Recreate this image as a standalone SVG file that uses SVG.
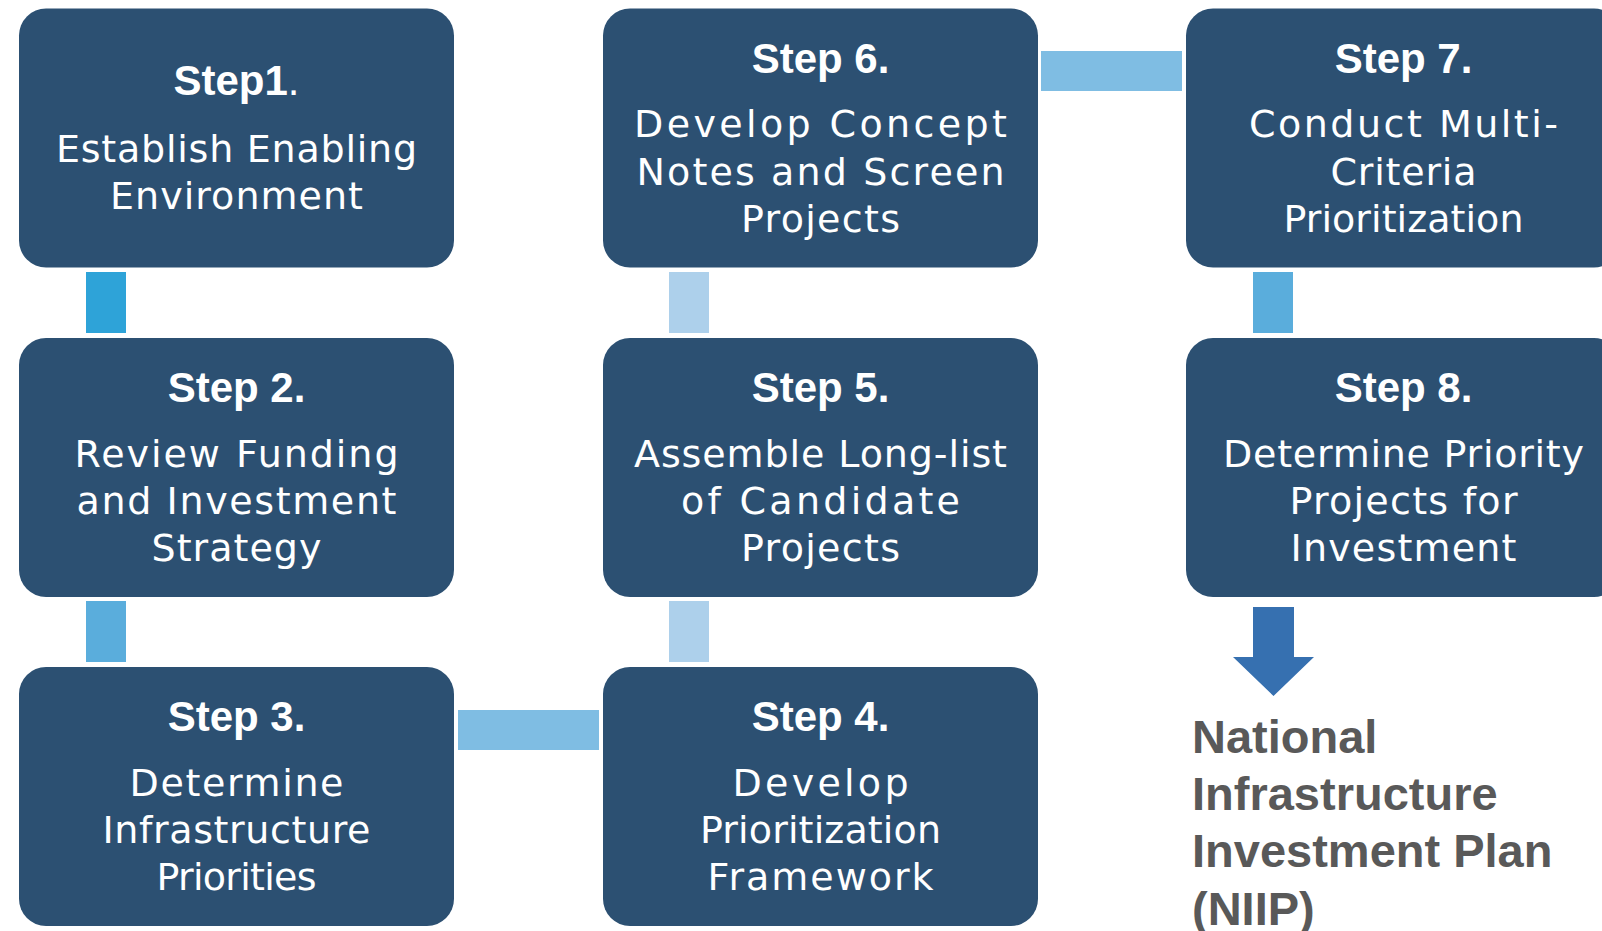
<svg xmlns="http://www.w3.org/2000/svg" width="1602" height="931" viewBox="0 0 1602 931">
  <style>
    .box { fill: #2C5072; }
    .title { font-family: "Liberation Sans", Arial, sans-serif; font-weight: bold; font-size: 42px; fill: #ffffff; text-anchor: middle; }
    .body { font-family: "DejaVu Sans", "Liberation Sans", sans-serif; font-size: 38px; fill: #ffffff; text-anchor: middle; }
    .out { font-family: "Liberation Sans", Arial, sans-serif; font-weight: bold; font-size: 47px; fill: #595959; }
  </style>
  <rect width="1602" height="931" fill="#ffffff"/>

  <!-- connectors between steps -->
  <g id="connectors">
    <rect x="86" y="272" width="40" height="61" fill="#2EA3D8"/>
    <rect x="86" y="601" width="40" height="61" fill="#5AADDC"/>
    <rect x="458" y="710" width="141" height="40" fill="#7FBDE3"/>
    <rect x="669" y="601" width="40" height="61" fill="#ADD0EB"/>
    <rect x="669" y="272" width="40" height="61" fill="#ADD0EB"/>
    <rect x="1041" y="51" width="141" height="40" fill="#7FBDE3"/>
    <rect x="1253" y="272" width="40" height="61" fill="#5AADDC"/>
    <polygon points="1253,607 1294,607 1294,657 1314,657 1273.5,696 1233,657 1253,657" fill="#3670B0"/>
  </g>

  <g id="step1">
    <rect class="box" x="19" y="8.5" width="435" height="259" rx="27"/>
    <text class="title" x="236.5" y="95">Step1<tspan font-weight="normal">.</tspan></text>
    <text class="body" x="236.5" y="162" textLength="361" lengthAdjust="spacing">Establish Enabling</text>
    <text class="body" x="236.5" y="209" textLength="253" lengthAdjust="spacing">Environment</text>
  </g>

  <g id="step2">
    <rect class="box" x="19" y="338" width="435" height="259" rx="27"/>
    <text class="title" x="236.5" y="402">Step 2.</text>
    <text class="body" x="236.5" y="467" textLength="324" lengthAdjust="spacing">Review Funding</text>
    <text class="body" x="236.5" y="514" textLength="320" lengthAdjust="spacing">and Investment</text>
    <text class="body" x="236.5" y="561" textLength="170" lengthAdjust="spacing">Strategy</text>
  </g>

  <g id="step3">
    <rect class="box" x="19" y="667" width="435" height="259" rx="27"/>
    <text class="title" x="236.5" y="731">Step 3.</text>
    <text class="body" x="236.5" y="796" textLength="214" lengthAdjust="spacing">Determine</text>
    <text class="body" x="236.5" y="843" textLength="268" lengthAdjust="spacing">Infrastructure</text>
    <text class="body" x="236.5" y="890" textLength="160" lengthAdjust="spacing">Priorities</text>
  </g>

  <g id="step4">
    <rect class="box" x="603" y="667" width="435" height="259" rx="27"/>
    <text class="title" x="820.5" y="731">Step 4.</text>
    <text class="body" x="820.5" y="796" textLength="176" lengthAdjust="spacing">Develop</text>
    <text class="body" x="820.5" y="843" textLength="241" lengthAdjust="spacing">Prioritization</text>
    <text class="body" x="820.5" y="890" textLength="226" lengthAdjust="spacing">Framework</text>
  </g>

  <g id="step5">
    <rect class="box" x="603" y="338" width="435" height="259" rx="27"/>
    <text class="title" x="820.5" y="402">Step 5.</text>
    <text class="body" x="820.5" y="467" textLength="373" lengthAdjust="spacing">Assemble Long-list</text>
    <text class="body" x="820.5" y="514" textLength="279" lengthAdjust="spacing">of Candidate</text>
    <text class="body" x="820.5" y="561" textLength="159" lengthAdjust="spacing">Projects</text>
  </g>

  <g id="step6">
    <rect class="box" x="603" y="8.5" width="435" height="259" rx="27"/>
    <text class="title" x="820.5" y="73">Step 6.</text>
    <text class="body" x="820.5" y="137" textLength="373" lengthAdjust="spacing">Develop Concept</text>
    <text class="body" x="820.5" y="185" textLength="368" lengthAdjust="spacing">Notes and Screen</text>
    <text class="body" x="820.5" y="232" textLength="159" lengthAdjust="spacing">Projects</text>
  </g>

  <g id="step7">
    <rect class="box" x="1186" y="8.5" width="435" height="259" rx="27"/>
    <text class="title" x="1403.5" y="73">Step 7.</text>
    <text class="body" x="1403.5" y="137" textLength="309" lengthAdjust="spacing">Conduct Multi-</text>
    <text class="body" x="1403.5" y="185" textLength="146" lengthAdjust="spacing">Criteria</text>
    <text class="body" x="1403.5" y="232" textLength="240" lengthAdjust="spacing">Prioritization</text>
  </g>

  <g id="step8">
    <rect class="box" x="1186" y="338" width="435" height="259" rx="27"/>
    <text class="title" x="1403.5" y="402">Step 8.</text>
    <text class="body" x="1403.5" y="467" textLength="361" lengthAdjust="spacing">Determine Priority</text>
    <text class="body" x="1403.5" y="514" textLength="228" lengthAdjust="spacing">Projects for</text>
    <text class="body" x="1403.5" y="561" textLength="226" lengthAdjust="spacing">Investment</text>
  </g>

  <g id="niip">
    <text class="out" x="1192" y="753">National</text>
    <text class="out" x="1192" y="810">Infrastructure</text>
    <text class="out" x="1192" y="867">Investment Plan</text>
    <text class="out" x="1192" y="925">(NIIP)</text>
  </g>
</svg>
